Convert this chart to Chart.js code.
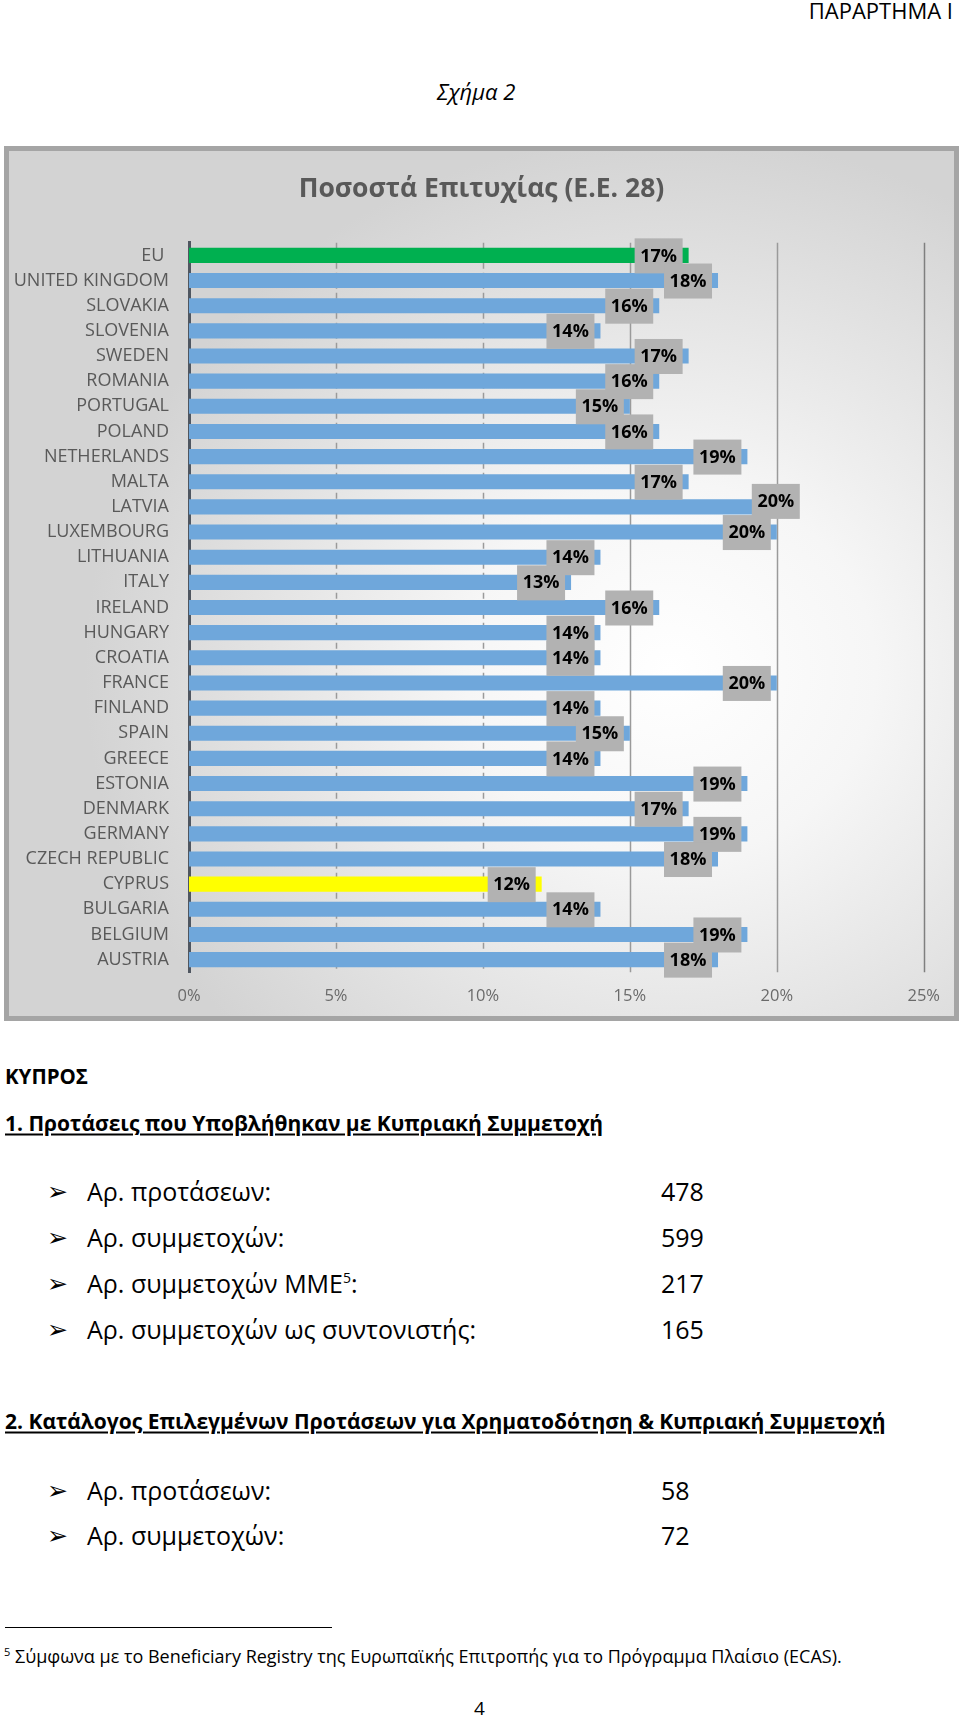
<!DOCTYPE html>
<html>
<head>
<meta charset="utf-8">
<script src="https://cdn.jsdelivr.net/npm/chart.js@4.4.1/dist/chart.umd.min.js"></script>
<style>
  body { margin: 0; width: 960px; height: 1718px; position: relative; background: #fff; font-family: 'Open Sans', sans-serif; color: #000; overflow: hidden; }
  .t { position: absolute; white-space: nowrap; line-height: 1; transform: translateY(-50%); }
  .b { font-weight: bold; }
  .u { text-decoration: underline; text-underline-offset: 3px; }
  .arrow { font-family: 'DejaVu Sans', sans-serif; font-size: 25px; }
  #box { position: absolute; left: 4px; top: 146px; width: 955px; height: 875px; box-sizing: border-box; border: 5px solid #a5a5a5;
         background: radial-gradient(ellipse 62% 62% at 70% 60%, #ffffff 0%, #f6f6f6 35%, #d3d3d3 100%); }
  #box canvas { display: block; }
</style>
</head>
<body>

<div class="t" style="right:7px; top:10px; font-size:22px;">ΠΑΡΑΡΤΗΜΑ Ι</div>
<div class="t" style="left:437px; top:91px; font-size:22px; font-style:italic;">Σχήμα 2</div>

<div id="box"><canvas id="myChart" width="945" height="869"></canvas></div>

<div class="t b" style="left:5px; top:1076px; font-size:20.5px;">ΚΥΠΡΟΣ</div>
<div class="t b u" style="left:5px; top:1123px; font-size:21px;">1. Προτάσεις που Υποβλήθηκαν με Κυπριακή Συμμετοχή</div>

<div class="t arrow" style="left:47px; top:1191px;">➢</div>
<div class="t" style="left:87px; top:1191px; font-size:25px;">Αρ. προτάσεων:</div>
<div class="t" style="left:661px; top:1191px; font-size:25px;">478</div>
<div class="t arrow" style="left:47px; top:1237px;">➢</div>
<div class="t" style="left:87px; top:1237px; font-size:25px;">Αρ. συμμετοχών:</div>
<div class="t" style="left:661px; top:1237px; font-size:25px;">599</div>
<div class="t arrow" style="left:47px; top:1283px;">➢</div>
<div class="t" style="left:87px; top:1283px; font-size:25px;">Αρ. συμμετοχών ΜΜΕ<sup style="font-size:14px;">5</sup>:</div>
<div class="t" style="left:661px; top:1283px; font-size:25px;">217</div>
<div class="t arrow" style="left:47px; top:1329px;">➢</div>
<div class="t" style="left:87px; top:1329px; font-size:25px;">Αρ. συμμετοχών ως συντονιστής:</div>
<div class="t" style="left:661px; top:1329px; font-size:25px;">165</div>

<div class="t b u" style="left:5px; top:1421px; font-size:21px;">2. Κατάλογος Επιλεγμένων Προτάσεων για Χρηματοδότηση &amp; Κυπριακή Συμμετοχή</div>

<div class="t arrow" style="left:47px; top:1490px;">➢</div>
<div class="t" style="left:87px; top:1490px; font-size:25px;">Αρ. προτάσεων:</div>
<div class="t" style="left:661px; top:1490px; font-size:25px;">58</div>
<div class="t arrow" style="left:47px; top:1535px;">➢</div>
<div class="t" style="left:87px; top:1535px; font-size:25px;">Αρ. συμμετοχών:</div>
<div class="t" style="left:661px; top:1535px; font-size:25px;">72</div>

<div style="position:absolute; left:5px; top:1627px; width:327px; height:1px; background:#000;"></div>
<div class="t" style="left:4px; top:1655px; font-size:18px;"><sup style="font-size:11px;">5</sup> Σύμφωνα με το Beneficiary Registry της Ευρωπαϊκής Επιτροπής για το Πρόγραμμα Πλαίσιο (ECAS).</div>
<div class="t" style="left:474px; top:1708px; font-size:19px;">4</div>

<script>
// Ποσοστά επιτυχίας ανά χώρα (%), από πάνω προς τα κάτω
const countries = ['EU ', 'UNITED KINGDOM', 'SLOVAKIA', 'SLOVENIA', 'SWEDEN', 'ROMANIA', 'PORTUGAL', 'POLAND',
  'NETHERLANDS', 'MALTA', 'LATVIA', 'LUXEMBOURG', 'LITHUANIA', 'ITALY', 'IRELAND', 'HUNGARY', 'CROATIA',
  'FRANCE', 'FINLAND', 'SPAIN', 'GREECE', 'ESTONIA', 'DENMARK', 'GERMANY', 'CZECH REPUBLIC', 'CYPRUS',
  'BULGARIA', 'BELGIUM', 'AUSTRIA'];
const successRate = [17, 18, 16, 14, 17, 16, 15, 16, 19, 17, 20, 20, 14, 13, 16, 14, 14,
  20, 14, 15, 14, 19, 17, 19, 18, 12, 14, 19, 18];
const xTicks = [0, 5, 10, 15, 20, 25];

const FONT = "'Open Sans', sans-serif";

function barColor(ctx) {
  const name = countries[ctx.dataIndex];
  if (name.trim() === 'EU') return '#00b050';
  if (name === 'CYPRUS') return '#ffff00';
  return '#6fa7db';
}

// κάθετες γραμμές πλέγματος: διακεκομμένες στο 5% και 10%, συνεχείς μετά
const gridPlugin = {
  id: 'gridLines',
  beforeDatasetsDraw(chart) {
    const { ctx, chartArea, scales } = chart;
    ctx.save();
    xTicks.forEach(v => {
      if (v === 0) return;
      const x = Math.round(scales.x.getPixelForValue(v)) + 0.5;
      ctx.beginPath();
      ctx.lineWidth = 1.5;
      ctx.strokeStyle = v >= 25 ? '#7f7f7f' : '#9a9a9a';
      ctx.setLineDash(v <= 10 ? [6, 4] : []);
      ctx.moveTo(x, chartArea.top);
      ctx.lineTo(x, chartArea.bottom);
      ctx.stroke();
    });
    ctx.restore();
  }
};

// ετικέτες τιμών σε γκρι πλαίσιο στο τέλος κάθε μπάρας
const labelPlugin = {
  id: 'valueBoxes',
  afterDatasetsDraw(chart) {
    const { ctx } = chart;
    const meta = chart.getDatasetMeta(0);
    ctx.save();
    ctx.font = 'bold 18px ' + FONT;
    ctx.textAlign = 'center';
    ctx.textBaseline = 'middle';
    meta.data.forEach((bar, i) => {
      let right = bar.x - 6;
      let cy = bar.y;
      if (countries[i] === 'LATVIA') { right += 29; cy -= 6; }
      ctx.fillStyle = '#b2b2b2';
      ctx.fillRect(right - 48, cy - 17, 48, 35);
      ctx.fillStyle = '#000';
      ctx.fillText(successRate[i] + '%', right - 24, cy + 1);
    });
    ctx.restore();
  }
};

new Chart(document.getElementById('myChart'), {
  type: 'bar',
  data: {
    labels: countries,
    datasets: [{
      data: successRate,
      backgroundColor: barColor,
      barPercentage: 0.6,
      categoryPercentage: 1
    }]
  },
  options: {
    indexAxis: 'y',
    responsive: false,
    animation: false,
    layout: { padding: 0 },
    plugins: {
      legend: { display: false },
      tooltip: { enabled: false },
      title: {
        display: true,
        text: 'Ποσοστά Επιτυχίας (Ε.Ε. 28)',
        color: '#595959',
        font: { family: FONT, size: 26.5, weight: 'bold' },
        padding: { top: 23, bottom: 37 }
      }
    },
    scales: {
      x: {
        min: 0,
        max: 25,
        afterBuildTicks: axis => { axis.ticks = xTicks.map(v => ({ value: v })); },
        grid: { display: false, drawTicks: false },
        border: { display: false },
        ticks: {
          color: '#6a6a6a',
          padding: 14,
          font: { family: FONT, size: 16.5 },
          callback: v => v + '%'
        }
      },
      y: {
        afterFit: axis => { axis.width = 180; },
        grid: { display: false, drawTicks: false },
        border: { display: true, color: '#4f5660', width: 3 },
        ticks: {
          color: '#595959',
          padding: 20,
          autoSkip: false,
          font: { family: FONT, size: 18 }
        }
      },
      // κενός άξονας δεξιά, μόνο για το περιθώριο μετά το 25%
      yRight: {
        type: 'category',
        position: 'right',
        afterFit: axis => { axis.width = 27; },
        grid: { display: false, drawTicks: false },
        border: { display: false },
        ticks: { display: false }
      }
    }
  },
  plugins: [gridPlugin, labelPlugin]
});
</script>
</body>
</html>
